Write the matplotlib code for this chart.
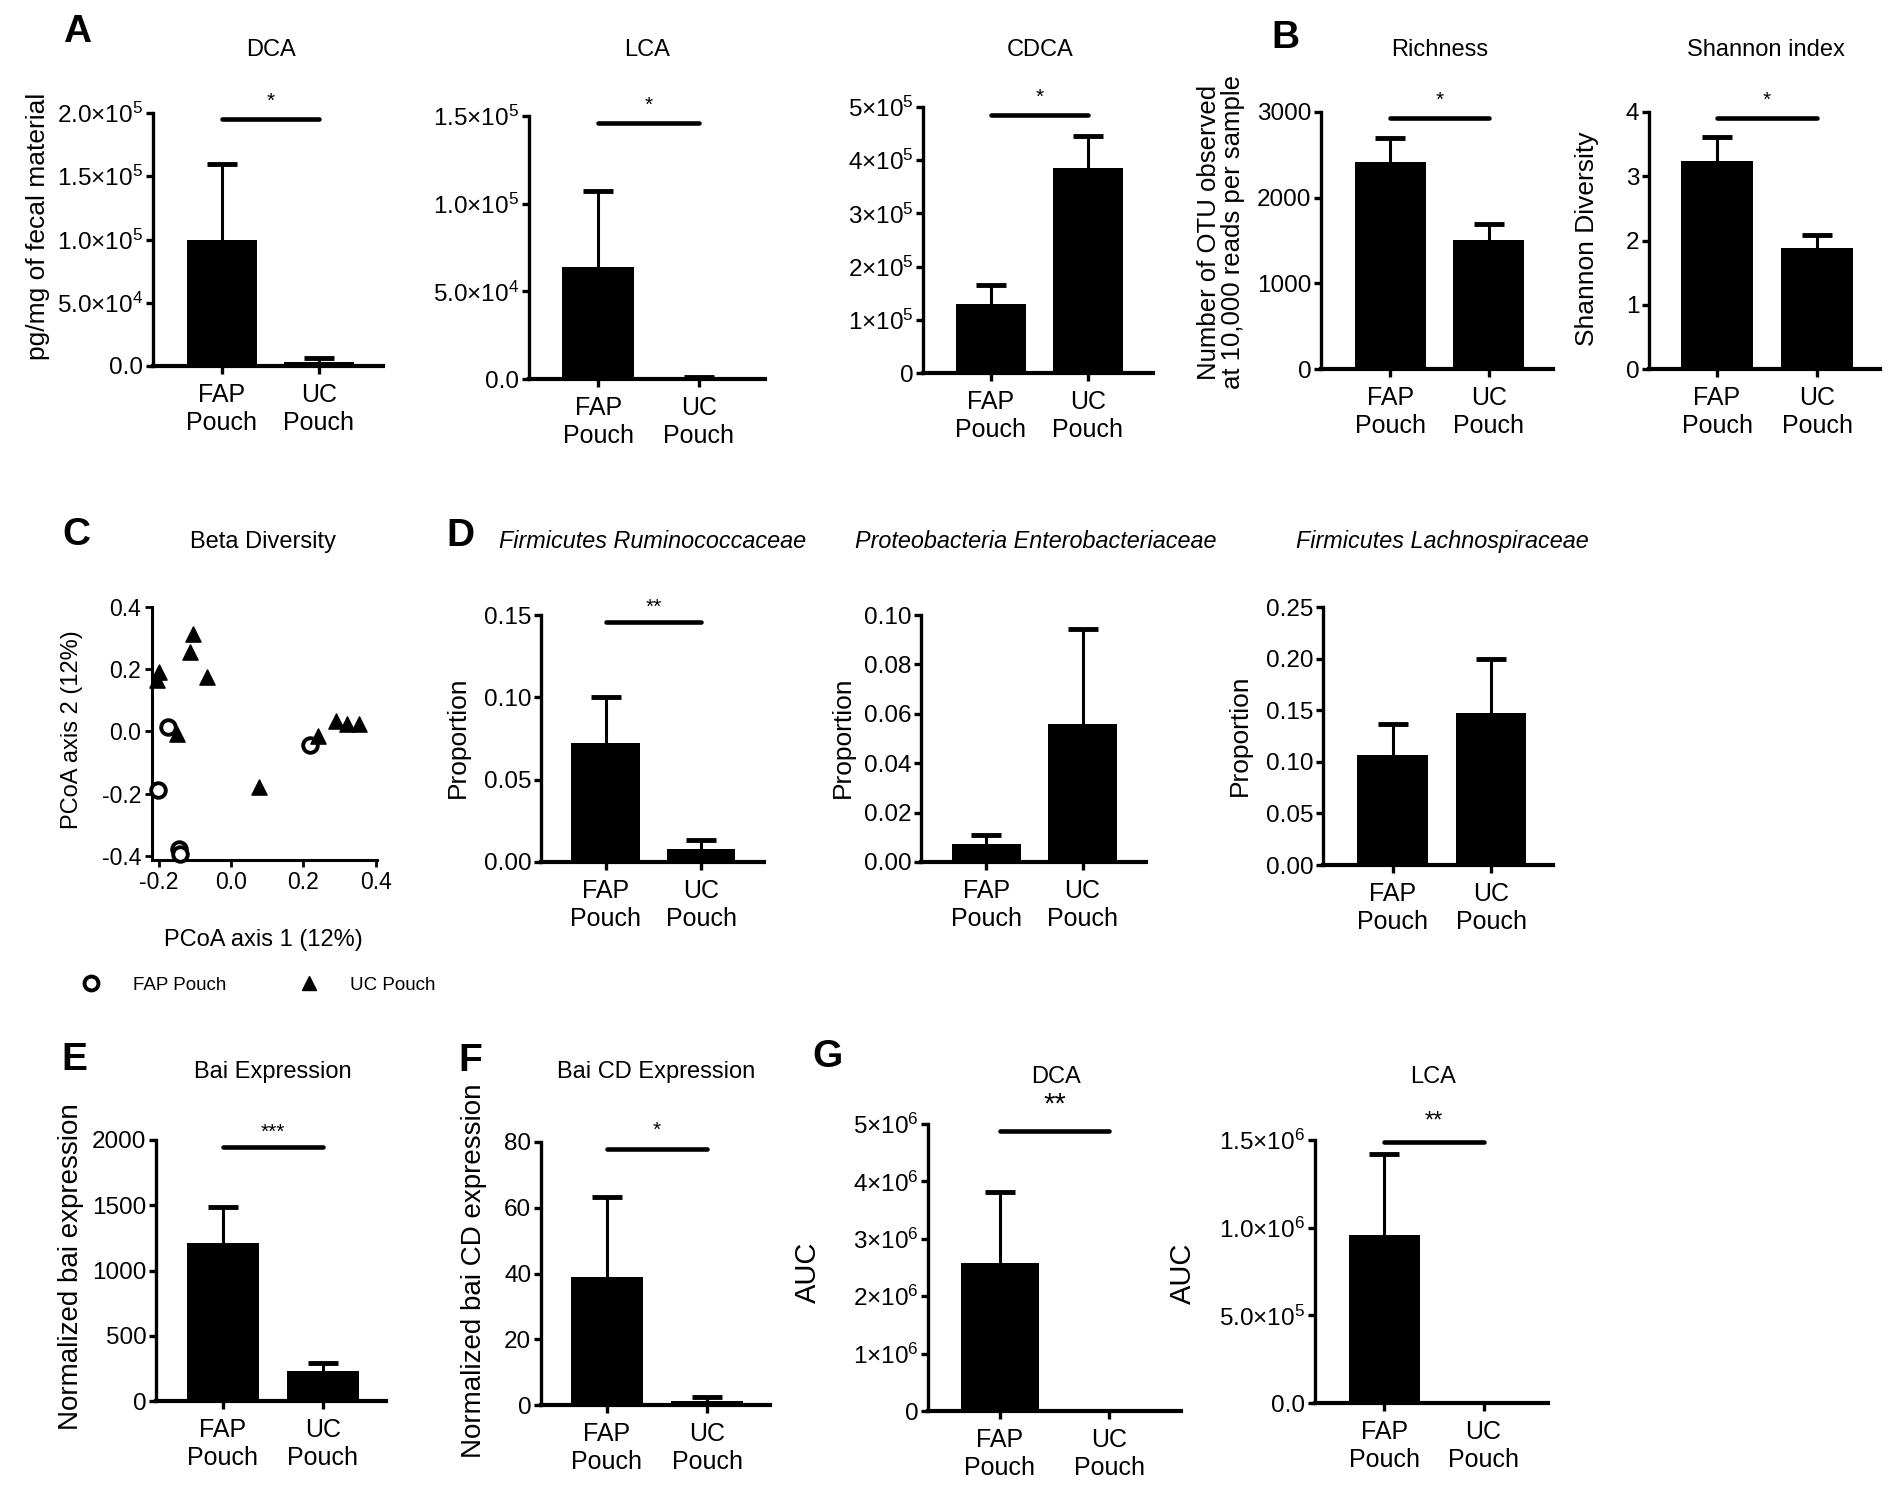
import numpy as np
import matplotlib
matplotlib.use("Agg")
import matplotlib.pyplot as plt
from matplotlib.lines import Line2D

plt.rcParams['font.family'] = ['Liberation Sans', 'DejaVu Sans']
plt.rcParams['mathtext.default'] = 'regular'
plt.rcParams['axes.unicode_minus'] = False

W, H = 1890, 1500
groups = ["FAP\nPouch", "UC\nPouch"]

# A - bile acids in fecal material (pg/mg): mean and top of error bar
dca_mean = [1.0e5, 3.5e3]
dca_top = [1.6e5, 6.0e3]
lca_mean = [6.4e4, 800]
lca_top = [1.07e5, 1200]
cdca_mean = [1.30e5, 3.85e5]
cdca_top = [1.65e5, 4.45e5]

# B - alpha diversity
rich_mean = [2416, 1506]
rich_top = [2696, 1693]
shan_mean = [3.24, 1.88]
shan_top = [3.61, 2.09]

# C - PCoA coordinates
fap_x = [-0.173, -0.201, -0.143, -0.141, 0.217]
fap_y = [0.014, -0.188, -0.377, -0.394, -0.045]
uc_x = [-0.104, -0.113, -0.198, -0.205, -0.065, -0.150, 0.076, 0.241, 0.290, 0.320, 0.352]
uc_y = [0.314, 0.255, 0.191, 0.164, 0.175, -0.008, -0.179, -0.013, 0.035, 0.023, 0.023]

# D - family proportions
rum_mean = [0.072, 0.0077]
rum_top = [0.100, 0.0136]
ent_mean = [0.0074, 0.056]
ent_top = [0.0108, 0.0943]
lach_mean = [0.107, 0.147]
lach_top = [0.1365, 0.200]

# E, F - bai expression
bai_mean = [1207, 230]
bai_top = [1483, 294]
baicd_mean = [38.8, 1.2]
baicd_top = [63.3, 2.5]

# G - in vitro AUC
gdca_mean = [2.57e6, 0]
gdca_top = [3.82e6, 0]
glca_mean = [0.957e6, 0]
glca_top = [1.42e6, 0]

fig = plt.figure(figsize=(W / 100, H / 100), dpi=100)


def px_axes(xl, xr, yt, yz):
    return fig.add_axes([xl / W, 1 - yz / H, (xr - xl) / W, (yz - yt) / H])


def ftext(x, y, s, **kw):
    fig.text(x / W, 1 - y / H, s, ha='center', va='center', **kw)


def bar_panel(box, means, tops, ylim, yticks, ylabels, xlim=(-0.69, 1.66),
              sig=None, star=None, star_off=6, star_size=15):
    ax = px_axes(*box)
    ax.bar([0, 1], means, width=0.72, color='black', zorder=3)
    means = np.array(means, dtype=float)
    hi = np.array(tops, dtype=float) - means
    # upper error bars only: a half bar from the mean to the top, with a cap
    eb = ax.errorbar([0, 1], means, yerr=[np.zeros(2), hi], fmt='none', ecolor='black',
                     elinewidth=2.2, capsize=11, capthick=3.5, zorder=2)
    for cl in eb[1]:
        if np.allclose(cl.get_ydata(), means):
            cl.set_visible(False)
    ax.set_xlim(*xlim)
    ax.set_ylim(*ylim)
    ax.set_yticks(yticks)
    ax.set_yticklabels(ylabels)
    ax.set_xticks([0, 1])
    ax.set_xticklabels(groups)
    for lab in ax.get_xticklabels():
        lab.set_linespacing(1.22)
    for s in ['top', 'right']:
        ax.spines[s].set_visible(False)
    ax.spines['left'].set_linewidth(2.4)
    ax.spines['bottom'].set_linewidth(3)
    ax.tick_params(axis='x', length=6, width=2.4, pad=6, labelsize=18)
    ax.tick_params(axis='y', length=5, width=2.4, pad=2, labelsize=17.5)
    ax.patch.set_alpha(0)
    if sig is not None:
        ax.plot([0, 1], [sig, sig], color='black', lw=3.3, clip_on=False,
                solid_capstyle='round')
        ax.annotate(star, (0.5, sig), xytext=(0, star_off), textcoords='offset points',
                    ha='center', va='bottom', fontsize=star_size, annotation_clip=False)
    return ax


def sci(v, e, dec):
    if v == 0:
        return "0.0" if dec else "0"
    m = v / 10 ** e
    txt = f"{m:.1f}" if dec else f"{m:.0f}"
    return txt + "\u00d710$^{" + str(e) + "}$"


# ---- A ----
t = [0, 5e4, 1e5, 1.5e5, 2e5]
bar_panel((153, 383, 113, 366), dca_mean, dca_top, (0, 2e5), t,
          ["0.0"] + [sci(v, 4 if v < 1e5 else 5, True) for v in t[1:]],
          xlim=(-0.71, 1.66), sig=1.95e5, star='*')
t = [0, 5e4, 1e5, 1.5e5]
bar_panel((529, 765, 116, 379), lca_mean, lca_top, (0, 1.5e5), t,
          ["0.0"] + [sci(v, 4 if v < 1e5 else 5, True) for v in t[1:]],
          sig=1.46e5, star='*')
t = [0, 1e5, 2e5, 3e5, 4e5, 5e5]
bar_panel((923, 1153, 107, 373), cdca_mean, cdca_top, (0, 5e5), t,
          [sci(v, 5, False) for v in t], xlim=(-0.70, 1.67), sig=4.85e5, star='*')

# ---- B ----
bar_panel((1321, 1553, 112, 369), rich_mean, rich_top, (0, 3000), [0, 1000, 2000, 3000],
          ["0", "1000", "2000", "3000"], xlim=(-0.70, 1.65), sig=2930, star='*')
bar_panel((1649, 1880, 112, 369), shan_mean, shan_top, (0, 4), [0, 1, 2, 3, 4],
          ["0", "1", "2", "3", "4"], xlim=(-0.68, 1.63), sig=3.91, star='*')

# ---- C ----
axc = px_axes(152, 377, 607, 860)
axc.scatter(fap_x, fap_y, s=110, marker='o', facecolors='white', edgecolors='black',
            linewidths=2.8, zorder=3, clip_on=False)
axc.scatter(uc_x, uc_y, s=120, marker='^', color='black', zorder=3, clip_on=False)
axc.set_xlim(-0.218, 0.403)
axc.set_ylim(-0.413, 0.4)
axc.set_xticks([-0.2, 0.0, 0.2, 0.4])
axc.set_xticklabels(["-0.2", "0.0", "0.2", "0.4"])
axc.set_yticks([-0.4, -0.2, 0.0, 0.2, 0.4])
axc.set_yticklabels(["-0.4", "-0.2", "0.0", "0.2", "0.4"])
for s in ['top', 'right']:
    axc.spines[s].set_visible(False)
axc.spines['left'].set_linewidth(2.2)
axc.spines['bottom'].set_linewidth(2.2)
axc.tick_params(length=5, width=2, pad=3, labelsize=16.5)
axc.patch.set_alpha(0)
handles = [Line2D([], [], ls='none', marker='o', ms=10, mfc='white', mec='black', mew=2.8),
           Line2D([], [], ls='none', marker='^', ms=10, color='black')]
fig.legend(handles, ["FAP Pouch", "UC Pouch"], ncol=2, loc='center left',
           bbox_to_anchor=(82 / W, 1 - 985 / H), bbox_transform=fig.transFigure,
           frameon=False, fontsize=13.5, handlelength=1.0, handletextpad=1.7,
           columnspacing=3.9, borderpad=0, borderaxespad=0)

# ---- D ----
bar_panel((541, 764, 615, 862), rum_mean, rum_top, (0, 0.15), [0, 0.05, 0.10, 0.15],
          ["0.00", "0.05", "0.10", "0.15"], xlim=(-0.68, 1.66), sig=0.1455, star='**',
          star_off=4)
bar_panel((921, 1146, 615, 862), ent_mean, ent_top, (0, 0.10), [0, 0.02, 0.04, 0.06, 0.08, 0.10],
          ["0.00", "0.02", "0.04", "0.06", "0.08", "0.10"], xlim=(-0.68, 1.66))
bar_panel((1323, 1553, 607, 865), lach_mean, lach_top, (0, 0.25),
          [0, 0.05, 0.10, 0.15, 0.20, 0.25],
          ["0.00", "0.05", "0.10", "0.15", "0.20", "0.25"], xlim=(-0.71, 1.63))

# ---- E, F ----
bar_panel((156, 386, 1140, 1401), bai_mean, bai_top, (0, 2000), [0, 500, 1000, 1500, 2000],
          ["0", "500", "1000", "1500", "2000"], xlim=(-0.67, 1.63), sig=1944, star='***',
          star_off=4)
bar_panel((541, 770, 1142, 1405), baicd_mean, baicd_top, (0, 80), [0, 20, 40, 60, 80],
          ["0", "20", "40", "60", "80"], xlim=(-0.66, 1.63), sig=78, star='*')

# ---- G ----
t = [0, 1e6, 2e6, 3e6, 4e6, 5e6]
bar_panel((928, 1181, 1124, 1411), gdca_mean, gdca_top, (0, 5e6), t,
          [sci(v, 6, False) for v in t], xlim=(-0.66, 1.66), sig=4.87e6, star='**',
          star_off=9, star_size=21)
t = [0, 5e5, 1e6, 1.5e6]
bar_panel((1315, 1548, 1140, 1403), glca_mean, glca_top, (0, 1.5e6), t,
          ["0.0", sci(5e5, 5, True), sci(1e6, 6, True), sci(1.5e6, 6, True)],
          xlim=(-0.70, 1.65), sig=1.487e6, star='**', star_off=7, star_size=17)

# ---- titles ----
for x, y, s in [(271, 50, "DCA"), (647, 50, "LCA"), (1040, 50, "CDCA"),
                (1440, 50, "Richness"), (1766, 50, "Shannon index"),
                (263, 542, "Beta Diversity"), (273, 1072, "Bai Expression"),
                (656, 1072, "Bai CD Expression"), (1056, 1077, "DCA"), (1433, 1077, "LCA")]:
    ftext(x, y, s, fontsize=17)
for x, s in [(653, "Firmicutes Ruminococcaceae"), (1036, "Proteobacteria Enterobacteriaceae"),
             (1442, "Firmicutes Lachnospiraceae")]:
    ftext(x, 542, s, fontsize=16.8, style='italic')

# ---- axis labels ----
for x, y, s, fs in [(38, 226, "pg/mg of fecal material", 19),
                    (1221, 232, "Number of OTU observed\nat 10,000 reads per sample", 18.5),
                    (1587, 239, "Shannon Diversity", 19),
                    (72, 730, "PCoA axis 2 (12%)", 17),
                    (458, 737, "Proportion", 19), (843, 737, "Proportion", 19),
                    (1240, 735, "Proportion", 19),
                    (71, 1267, "Normalized bai expression", 20),
                    (474, 1271, "Normalized bai CD expression", 20),
                    (808, 1272, "AUC", 21), (1183, 1273, "AUC", 21)]:
    ftext(x, y, s, fontsize=fs, rotation=90, linespacing=1.0)
ftext(263, 940, "PCoA axis 1 (12%)", fontsize=17)

# ---- panel letters ----
for x, y, s in [(77, 32, "A"), (1285, 38, "B"), (76, 535, "C"), (460, 536, "D"),
                (74, 1060, "E"), (470, 1061, "F"), (828, 1057, "G")]:
    ftext(x, y, s, fontsize=28, fontweight='bold')

fig.savefig("out.png", dpi=100)
